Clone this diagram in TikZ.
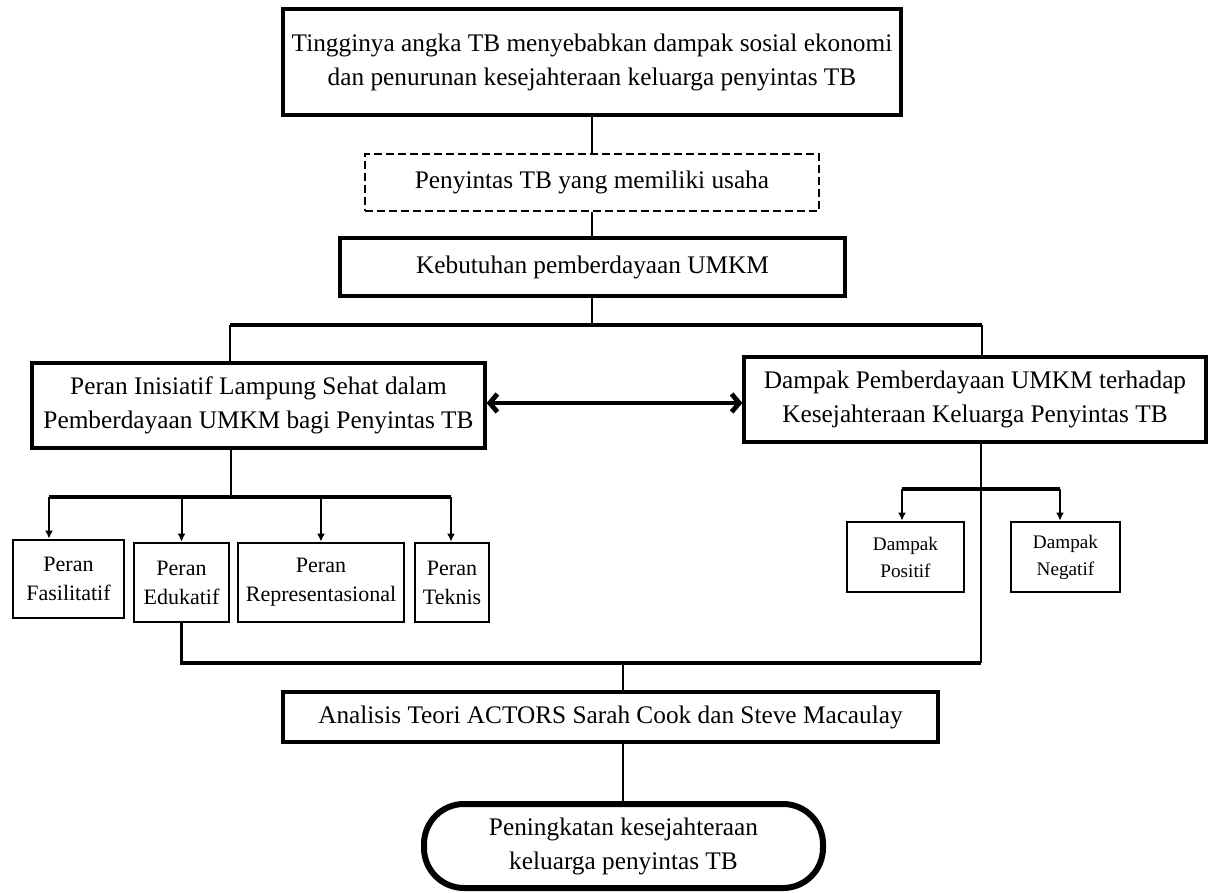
\documentclass[tikz,border=0pt]{standalone}
\usepackage{fontspec}
\setmainfont{Liberation Serif}
\usetikzlibrary{arrows.meta}
\begin{document}
\begin{tikzpicture}[x=0.5pt,y=-0.5pt,
  box/.style={draw, line width=1.6pt, align=center, inner sep=1pt, font=\fontsize{12.65}{17}\selectfont},
  dashbox/.style={box, line width=1.3pt, dash pattern=on 4pt off 2pt},
  smallbox/.style={draw, line width=1.4pt, align=center, inner sep=1pt, font=\fontsize{11}{14.5}\selectfont},
  tinybox/.style={draw, line width=1.4pt, align=center, inner sep=1pt, font=\fontsize{9.6}{13.5}\selectfont},
  endbox/.style={draw, line width=3pt, rounded corners=20pt, align=center, inner sep=1pt, font=\fontsize{12.65}{17}\selectfont},
  conn/.style={line width=1pt},
  bus/.style={line width=2.4pt},
  arr/.style={line width=1pt, -{Latex[length=4pt,width=4pt]}},
  dbl/.style={line width=2.4pt, {Straight Barb[length=3.8pt,width=9pt]}-{Straight Barb[length=3.8pt,width=9pt]}}
]
\useasboundingbox (0,0) rectangle (1211,893);

\node[box, minimum width=309pt, minimum height=53pt] (top) at (592,62)
  {Tingginya angka TB menyebabkan dampak sosial ekonomi\\dan penurunan kesejahteraan keluarga penyintas TB};
\node[dashbox, minimum width=227pt, minimum height=28.5pt] (dash) at (592,182.5)
  {Penyintas TB yang memiliki usaha};
\node[box, minimum width=252.5pt, minimum height=29pt] (keb) at (592.5,267)
  {Kebutuhan pemberdayaan UMKM};
\node[box, minimum width=226.5pt, minimum height=42.5pt] (left) at (258.5,405.5)
  {Peran Inisiatif Lampung Sehat dalam\\Pemberdayaan UMKM bagi Penyintas TB};
\node[box, minimum width=231pt, minimum height=42.5pt] (right) at (975,399.5)
  {Dampak Pemberdayaan UMKM terhadap\\Kesejahteraan Keluarga Penyintas TB};

\node[smallbox, minimum width=55.5pt, minimum height=39pt] (fas) at (68.5,579) {Peran\\Fasilitatif};
\node[smallbox, minimum width=47.5pt, minimum height=39.5pt] (edu) at (181.5,582.5) {Peran\\Edukatif};
\node[smallbox, minimum width=83pt, minimum height=39.5pt] (rep) at (321,582.5) {Peran\\Representasional};
\node[smallbox, minimum width=37pt, minimum height=39.5pt] (tek) at (452,582.5) {Peran\\Teknis};

\node[tinybox, minimum width=58.5pt, minimum height=35pt] (pos) at (905.5,557) {Dampak\\Positif};
\node[tinybox, minimum width=54.5pt, minimum height=35pt] (neg) at (1065.5,557) {Dampak\\Negatif};

\node[box, minimum width=327.5pt, minimum height=25pt] (ana) at (610.5,717)
  {Analisis Teori ACTORS Sarah Cook dan Steve Macaulay};
\node[endbox, minimum width=199.5pt, minimum height=42pt] (fin) at (623.5,846)
  {Peningkatan kesejahteraan\\keluarga penyintas TB};

% junction coordinates
\coordinate (j0) at (592,325);
\coordinate (bL) at (230,325);
\coordinate (bR) at (982,325);
\coordinate (ay) at (0,403);
\coordinate (lj) at (231,497);
\coordinate (l1) at (49,497);
\coordinate (l4) at (451,497);
\coordinate (rj) at (981,489);
\coordinate (r1) at (902,489);
\coordinate (r2) at (1060,489);
\coordinate (bj) at (623,663);

% top chain
\draw[conn] (top.south) -- (dash.north);
\draw[conn] (dash.south) -- (keb.north -| dash.south);
\draw[conn] (keb.south -| j0) -- (j0);
\draw[bus] (bL) -- (bR);
\draw[conn] (bL) -- (bL |- left.north);
\draw[conn] (bR) -- (bR |- right.north);

% double arrow
\draw[dbl] (left.east |- ay) -- (right.west |- ay);

% left branch
\draw[conn] (lj |- left.south) -- (lj);
\draw[bus] (l1) -- (l4);
\draw[arr] (l1) -- (l1 |- fas.north);
\draw[arr] (edu.north |- l1) -- (edu.north);
\draw[arr] (rep.north |- l1) -- (rep.north);
\draw[arr] (l4) -- (l4 |- tek.north);

% right branch
\draw[bus] (r1) -- (r2);
\draw[arr] (r1) -- (r1 |- pos.north);
\draw[arr] (r2) -- (r2 |- neg.north);

% joining to analysis
\draw[line width=1.8pt] (edu.south) -- (edu.south |- bj) -- (rj |- bj);
\draw[conn] (rj |- right.south) -- (rj |- bj);
\draw[conn] (bj) -- (bj |- ana.north);
\draw[conn] (ana.south -| bj) -- (fin.north -| bj);
\end{tikzpicture}
\end{document}
